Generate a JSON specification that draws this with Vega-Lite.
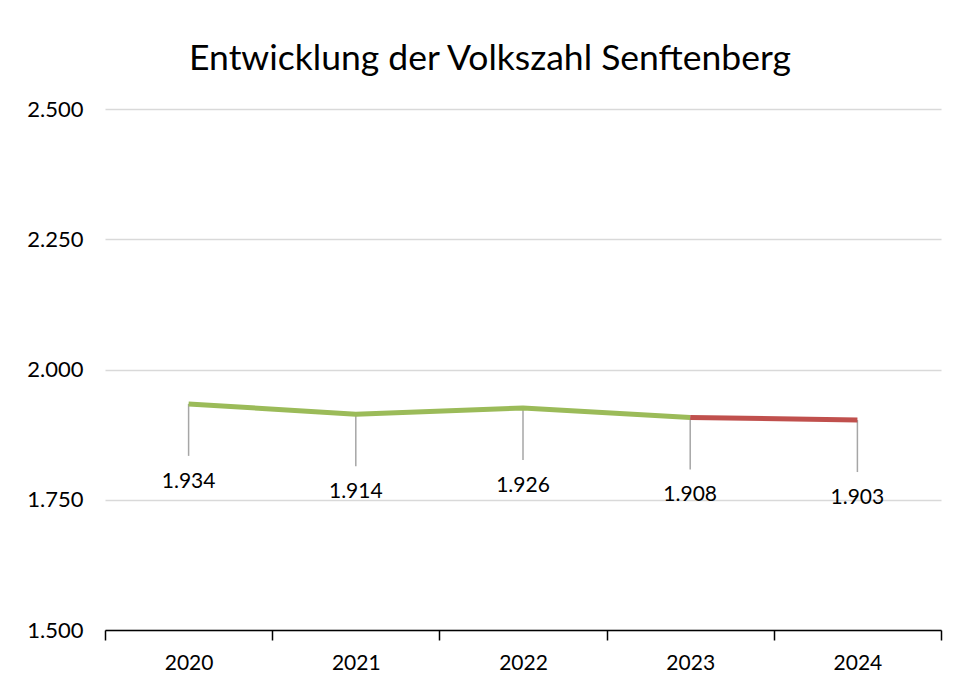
{
  "$schema": "https://vega.github.io/schema/vega-lite/v6.json",
  "autosize": {"type": "none"},
  "width": 836,
  "height": 521,
  "padding": {"left": 105, "top": 109, "right": 18, "bottom": 54},
  "background": "white",
  "config": {
    "locale": {"number": {"decimal": ",", "thousands": ".", "grouping": [3], "currency": ["", " €"]}},
    "view": {"stroke": null},
    "font": "Lato"
  },
  "title": {
    "text": "Entwicklung der Volkszahl Senftenberg",
    "font": "Lato",
    "fontSize": 35.5,
    "fontWeight": "normal",
    "color": "#000000",
    "anchor": "middle",
    "frame": "group",
    "dx": -33,
    "baseline": "alphabetic",
    "offset": -7
  },
  "datasets": {
    "line": [
      {"year": "2020", "value": 1934, "segment": "A"},
      {"year": "2021", "value": 1914, "segment": "A"},
      {"year": "2022", "value": 1926, "segment": "A"},
      {"year": "2023", "value": 1908, "segment": "A"},
      {"year": "2023", "value": 1908, "segment": "B"},
      {"year": "2024", "value": 1903, "segment": "B"}
    ],
    "points": [
      {"year": "2020", "value": 1934},
      {"year": "2021", "value": 1914},
      {"year": "2022", "value": 1926},
      {"year": "2023", "value": 1908},
      {"year": "2024", "value": 1903}
    ]
  },
  "encoding": {
    "x": {
      "field": "year",
      "type": "ordinal",
      "scale": {"paddingInner": 0, "paddingOuter": 0},
      "axis": {
        "title": null,
        "labelAngle": 0,
        "labelFont": "Lato",
        "labelFontSize": 21,
        "labelColor": "#000000",
        "labelPadding": 12,
        "domainColor": "#000000",
        "domainWidth": 1.5,
        "tickColor": "#000000",
        "tickSize": 10,
        "tickWidth": 1.5,
        "tickBand": "extent",
        "grid": false
      }
    },
    "y": {
      "field": "value",
      "type": "quantitative",
      "scale": {"domain": [1500, 2500], "nice": false, "zero": false},
      "axis": {
        "title": null,
        "values": [1500, 1750, 2000, 2250, 2500],
        "format": ",.0f",
        "labelFont": "Lato",
        "labelFontSize": 22,
        "labelColor": "#000000",
        "labelPadding": 22,
        "domain": false,
        "ticks": false,
        "grid": true,
        "gridColor": "#d9d9d9",
        "gridWidth": 1.5
      }
    }
  },
  "layer": [
    {
      "data": {"name": "points"},
      "mark": {"type": "rule", "color": "#a6a6a6", "strokeWidth": 1.5, "y2Offset": 52},
      "encoding": {
        "y2": {"field": "value"},
        "y": {"field": "value", "type": "quantitative"}
      }
    },
    {
      "data": {"name": "line"},
      "mark": {"type": "line", "strokeWidth": 5, "strokeCap": "butt"},
      "encoding": {
        "color": {
          "field": "segment",
          "type": "nominal",
          "scale": {"domain": ["A", "B"], "range": ["#9bbb59", "#c0504d"]},
          "legend": null
        }
      }
    },
    {
      "data": {"name": "points"},
      "mark": {"type": "text", "font": "Lato", "fontSize": 21, "color": "#000000", "dy": 78, "baseline": "middle", "align": "center"},
      "encoding": {
        "text": {"field": "value", "type": "quantitative", "format": ",.0f"}
      }
    }
  ]
}
